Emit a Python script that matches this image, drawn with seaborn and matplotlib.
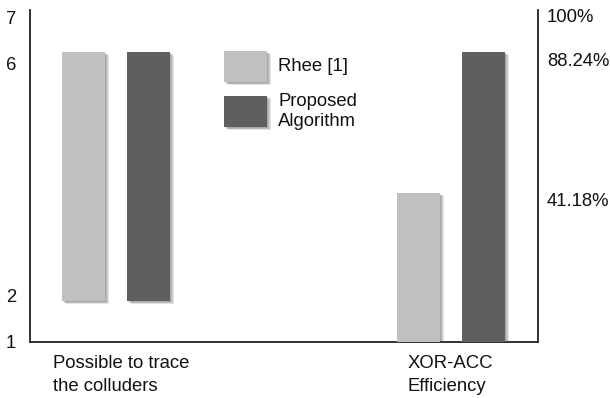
import numpy as np
import pandas as pd
import matplotlib
matplotlib.use("Agg")
import matplotlib.pyplot as plt
import seaborn as sns
from matplotlib.patches import Rectangle
from matplotlib import patheffects as pe
from matplotlib.transforms import ScaledTranslation

# ---------------- data ----------------
categories = ["Possible to trace\nthe colluders", "XOR-ACC\nEfficiency"]
methods = ["Rhee [1]", "Proposed\nAlgorithm"]
trace_low = [2, 2]          # floating bars: start value (left axis)
trace_high = [6, 6]         # floating bars: end value (left axis)
efficiency_pct = [41.18, 88.24]   # right axis (%)
left_ticks = [1, 2, 6, 7]
left_tick_labels = ["1", "2", "6", "7"]
right_ticks = [41.18, 88.24, 100]
right_tick_labels = ["41.18%", "88.24%", "100%"]
colors = ["#c0c0c0", "#5f5f5f"]

# ---------------- style ----------------
sns.set_theme(style="white")
plt.rcParams["font.family"] = ["Liberation Sans", "DejaVu Sans"]
FS = 13.3
DPI = 100

# the reference axes are drawn with non-uniform spacing -> piecewise-linear scales
L_V = np.array([1.0, 2.0, 6.0, 7.0]); L_F = np.array([0.0, 41 / 332, 290 / 332, 1.0])
R_V = np.array([0.0, 41.18, 88.24, 100.0]); R_F = np.array([0.0, 149 / 332, 290 / 332, 1.0])


def pw(xp, fp):
    xp = np.asarray(xp, float)
    fp = np.asarray(fp, float)

    def f(x):
        x = np.asarray(x, float)
        y = np.interp(x, xp, fp)
        y = np.where(x < xp[0], fp[0] + (x - xp[0]) * (fp[1] - fp[0]) / (xp[1] - xp[0]), y)
        y = np.where(x > xp[-1], fp[-1] + (x - xp[-1]) * (fp[-1] - fp[-2]) / (xp[-1] - xp[-2]), y)
        return y
    return f


fig = plt.figure(figsize=(6.1, 3.98), dpi=DPI)
ax = fig.add_axes([30 / 610, 56 / 398, 508 / 610, 332 / 398])
ax2 = ax.twinx()
ax.set_yscale("function", functions=(pw(L_V, L_F), pw(L_F, L_V)))
ax2.set_yscale("function", functions=(pw(R_V, R_F), pw(R_F, R_V)))

df_trace = pd.DataFrame({
    "category": [categories[0]] * len(methods),
    "method": methods,
    "span": np.subtract(trace_high, trace_low),
})
df_eff = pd.DataFrame({
    "category": [categories[1]] * len(methods),
    "method": methods,
    "value": efficiency_pct,
})

common = dict(x="category", hue="method", order=categories, hue_order=methods,
              palette=colors, saturation=1, width=0.388, gap=0.34,
              errorbar=None, legend=False)
sns.barplot(data=df_trace, y="span", bottom=trace_low[0], ax=ax, **common)
sns.barplot(data=df_eff, y="value", ax=ax2, **common)

# soft drop shadow (several faint offset layers)
shadow = [pe.SimplePatchShadow(offset=(o, -o * 0.8), shadow_rgbFace="0.3", alpha=0.15)
          for o in (0.8, 1.5, 2.2, 2.9)] + [pe.Normal()]
for p in list(ax.patches) + list(ax2.patches):
    p.set_path_effects(shadow)
    p.set_linewidth(0)

ax.set_xlim(-86 / 335, 1 + 87 / 335)
ax.set_ylim(1, 7)
ax2.set_ylim(0, 100)
for a in (ax, ax2):
    a.set_xlabel("")
    a.set_ylabel("")
    a.grid(False)

# spines
for a in (ax, ax2):
    a.spines["top"].set_visible(False)
    for s in ("left", "bottom", "right"):
        a.spines[s].set_color("#222222")
        a.spines[s].set_linewidth(1.3)
ax.spines["right"].set_visible(False)
ax2.spines["left"].set_visible(False)
ax2.spines["bottom"].set_visible(False)

# ticks
ax.set_xticks([0, 1], categories)
ax.set_yticks(left_ticks, left_tick_labels)
ax2.set_yticks(right_ticks, right_tick_labels)
ax.tick_params(axis="x", length=0, pad=9.5, labelsize=FS, colors="#111111")
ax.tick_params(axis="y", length=0, pad=10, labelsize=FS, colors="#111111")
ax2.tick_params(axis="y", length=0, pad=6.5, labelsize=FS, colors="#111111")
ax.minorticks_off()
ax2.minorticks_off()

for lab in ax.get_xticklabels():
    lab.set_multialignment("left")
    lab.set_linespacing(1.45)

# small hand-placement offsets of the labels in the reference (pixels)
x_off = [5, -1]
for t, dx in zip(ax.xaxis.get_major_ticks(), x_off):
    t.label1.set_transform(t.label1.get_transform() + ScaledTranslation(dx / DPI, 0, fig.dpi_scale_trans))
l_off = [0, 6, -11, -8]
for t, dy in zip(ax.yaxis.get_major_ticks(), l_off):
    t.label1.set_transform(t.label1.get_transform() + ScaledTranslation(0, dy / DPI, fig.dpi_scale_trans))
r_off = [-7, -8, -5]
for t, dy in zip(ax2.yaxis.get_major_ticks(), r_off):
    t.label2.set_transform(t.label2.get_transform() + ScaledTranslation(0, dy / DPI, fig.dpi_scale_trans))

# legend (drawn manually to match the reference's layout)
W, H = 508.0, 332.0
legend_boxes = [(224, 51), (224, 96)]
for (px, py), col, name in zip(legend_boxes, colors, methods):
    r = Rectangle(((px - 30) / W, (342 - py - 31) / H), 43 / W, 31 / H,
                  transform=ax2.transAxes, facecolor=col, edgecolor="none",
                  clip_on=False, zorder=5)
    r.set_path_effects(shadow)
    ax2.add_patch(r)
    ax2.text((278 - 30) / W, (342 - py - 15.5) / H, name, transform=ax2.transAxes,
             ha="left", va="center", fontsize=FS, linespacing=1.2, color="#111111", zorder=6)

fig.savefig("out.png", dpi=DPI)
